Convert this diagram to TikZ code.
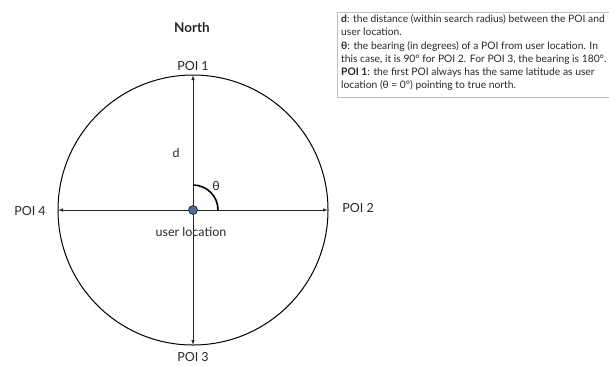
\documentclass[tikz,border=0pt]{standalone}
\usepackage{fontspec}
\setmainfont{Lato}
\usetikzlibrary{arrows.meta}
\definecolor{dotblue}{RGB}{78,108,146}
\definecolor{ink}{RGB}{40,40,40}

\begin{document}
\begin{tikzpicture}[x=1pt,y=-1pt,
  lbl/.style={text=ink,font=\fontsize{12.5}{14}\selectfont,inner sep=0pt},
  ray/.style={draw=black!85,line width=0.8pt,-{Latex[length=5pt,width=3.5pt]}}]
\useasboundingbox(0,0)rectangle(609,365);
\fill[white](0,0)rectangle(609,365);
\draw[line width=1pt](193,210)circle(135pt);
\coordinate(o)at(193,210);
\coordinate(p1)at(193,75);
\coordinate(p2)at(328,210);
\coordinate(p3)at(193,345);
\coordinate(p4)at(58,210);
\draw[ray](o)--(p1);
\draw[ray](o)--(p2);
\draw[ray](o)--(p3);
\draw[ray](o)--(p4);
\draw[line width=1.6pt](193,185)arc[start angle=90,end angle=0,radius=25pt];
\node[circle,draw=black!85,line width=0.7pt,fill=dotblue,minimum size=9pt,inner sep=0pt](user)at(o){};
\node[lbl,font=\fontsize{13.5}{15}\selectfont\bfseries](north)at(192,28){North};
\node[lbl](poi1)at(193,66){POI 1};
\node[lbl](poi2)at(358,208){POI 2};
\node[lbl](poi3)at(193,357){POI 3};
\node[lbl](poi4)at(30,211){POI 4};
\node[lbl](d)at(176,153){d};
\node[lbl](theta)at(216,186){θ};
\node[lbl](loc)at(191,232){user location};
\draw[black!25](337,12)rectangle(615,97);
\node[text=ink,font=\fontsize{10.3}{13.2}\selectfont,align=left,anchor=north west,inner sep=0pt](note)at(341,14.5){%
\textbf{d}: the distance (within search radius) between the POI and\\
user location.\\
\textbf{θ}: the bearing (in degrees) of a POI from user location. In\\
this case, it is 90° for POI 2. For POI 3, the bearing is 180°.\\
\textbf{POI 1}: the first POI always has the same latitude as user\\
location (θ = 0°) pointing to true north.};
\end{tikzpicture}
\end{document}
